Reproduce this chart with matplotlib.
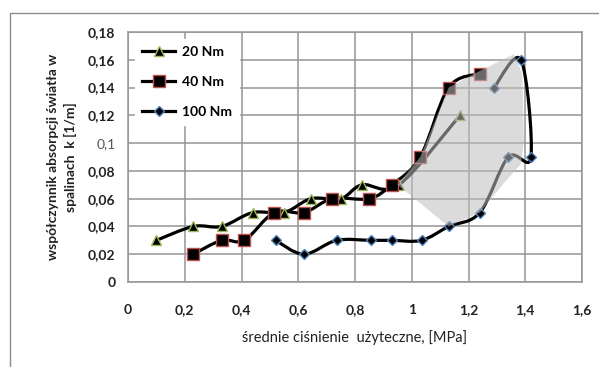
import numpy as np
import matplotlib
matplotlib.use("Agg")
import matplotlib.pyplot as plt
from matplotlib.path import Path
from matplotlib.patches import PathPatch, Polygon, Rectangle
from matplotlib.lines import Line2D

# data
x20 = [0.10, 0.23, 0.33, 0.44, 0.55, 0.645, 0.75, 0.825, 0.955, 1.17]
y20 = [0.03, 0.04, 0.04, 0.05, 0.05, 0.06, 0.06, 0.07, 0.07, 0.12]
x40 = [0.23, 0.33, 0.41, 0.515, 0.62, 0.72, 0.85, 0.93, 1.03, 1.13, 1.24]
y40 = [0.02, 0.03, 0.03, 0.05, 0.05, 0.06, 0.06, 0.07, 0.09, 0.14, 0.15]
x100 = [0.52, 0.62, 0.735, 0.855, 0.93, 1.035, 1.13, 1.24, 1.34, 1.42, 1.385, 1.29]
y100 = [0.03, 0.02, 0.03, 0.03, 0.03, 0.03, 0.04, 0.05, 0.09, 0.09, 0.16, 0.14]
labels = ["20 Nm", "40 Nm", "100 Nm"]

# shaded region (outline)
shade_x = [0.95, 1.03, 1.13, 1.24, 1.30, 1.36, 1.39, 1.395, 1.385, 1.32, 1.24, 1.13]
shade_y = [0.07, 0.09, 0.14, 0.152, 0.158, 0.164, 0.15, 0.10, 0.085, 0.07, 0.05, 0.04]

xticks = [0, 0.2, 0.4, 0.6, 0.8, 1.0, 1.2, 1.4, 1.6]
xtick_labels = ["0", "0,2", "0,4", "0,6", "0,8", "1", "1,2", "1,4", "1,6"]
yticks = [0, 0.02, 0.04, 0.06, 0.08, 0.10, 0.12, 0.14, 0.16, 0.18]
ytick_labels = ["0", "0,02", "0,04", "0,06", "0,08", "0,1", "0,12", "0,14", "0,16", "0,18"]


def smooth_path(xs, ys, t=1 / 6):
    # catmull-rom style bezier, like Excel "smoothed line"
    pts = np.column_stack([xs, ys])
    verts = [pts[0]]
    codes = [Path.MOVETO]
    n = len(pts)
    for i in range(n - 1):
        p0 = pts[i - 1] if i > 0 else pts[i]
        p1 = pts[i]
        p2 = pts[i + 1]
        p3 = pts[i + 2] if i + 2 < n else pts[i + 1]
        verts += [p1 + (p2 - p0) * t, p2 - (p3 - p1) * t, p2]
        codes += [Path.CURVE4] * 3
    return Path(verts, codes)


plt.rcParams["font.family"] = ["Lato", "DejaVu Sans"]
fig = plt.figure(figsize=(5.99, 3.67), dpi=100)
fig.patches.append(Rectangle((10 / 599, -0.1), 1.2, 1 - 13 / 367 + 0.1, transform=fig.transFigure,
                             fill=False, edgecolor="#8c8c8c", linewidth=1.0))
ax = fig.add_axes([128 / 599, 1 - 282 / 367, 454 / 599, 250 / 367])

series = [
    (x20, y20, "^", "#9bbb59", 7.5),
    (x40, y40, "s", "#c0504d", 8.5),
    (x100, y100, "D", "#4f81bd", 5.5),
]
handles = []
for (xs, ys, mk, ec, ms), lab in zip(series, labels):
    ax.add_patch(PathPatch(smooth_path(xs, ys), fill=False, edgecolor="black", linewidth=2.3, zorder=3))
    ax.plot(xs, ys, linestyle="none", marker=mk, markersize=ms, markerfacecolor="black",
            markeredgecolor=ec, markeredgewidth=1.0, zorder=4)
    handles.append(Line2D([], [], color="black", linewidth=2.3, marker=mk, markersize=ms,
                          markerfacecolor="black", markeredgecolor=ec, markeredgewidth=1.0))

ax.add_patch(Polygon(np.column_stack([shade_x, shade_y]), closed=True, facecolor="#bfbfbf",
                     edgecolor="none", alpha=0.55, zorder=5))

ax.set_xlim(0, 1.6)
ax.set_ylim(0, 0.18)
ax.set_xticks(xticks)
ax.set_xticklabels(xtick_labels)
ax.set_yticks(yticks)
ax.set_yticklabels(ytick_labels)
ax.tick_params(length=0, labelsize=10, pad=9)
ax.tick_params(axis="x", pad=16)
for lbl in ax.get_xticklabels() + ax.get_yticklabels():
    lbl.set_fontweight("bold")
    lbl.set_color("#222222")
ax.get_yticklabels()[5].set_fontweight("normal")
ax.get_yticklabels()[5].set_color("#555555")
ax.grid(True, color="#959595", linewidth=1.1)
ax.set_axisbelow(True)
for sp in ax.spines.values():
    sp.set_color("#959595")
    sp.set_linewidth(1.1)

ax.set_xlabel("średnie ciśnienie  użyteczne, [MPa]", fontsize=10.5, labelpad=10, color="#222222")
ax.set_ylabel("współczynnik absorpcji światła w\nspalinach  k [1/m]", fontsize=10,
              fontweight="bold", labelpad=8, color="#222222", linespacing=1.45)

leg = ax.legend(handles, labels, loc="upper left", bbox_to_anchor=(0.0, 1.0), frameon=True,
                fancybox=False, framealpha=1, edgecolor="white", handlelength=2.4,
                labelspacing=1.3, prop={"weight": "bold", "size": 10}, borderpad=0.5,
                handletextpad=0.5)
leg.set_zorder(10)

fig.savefig("out.png", dpi=100)
